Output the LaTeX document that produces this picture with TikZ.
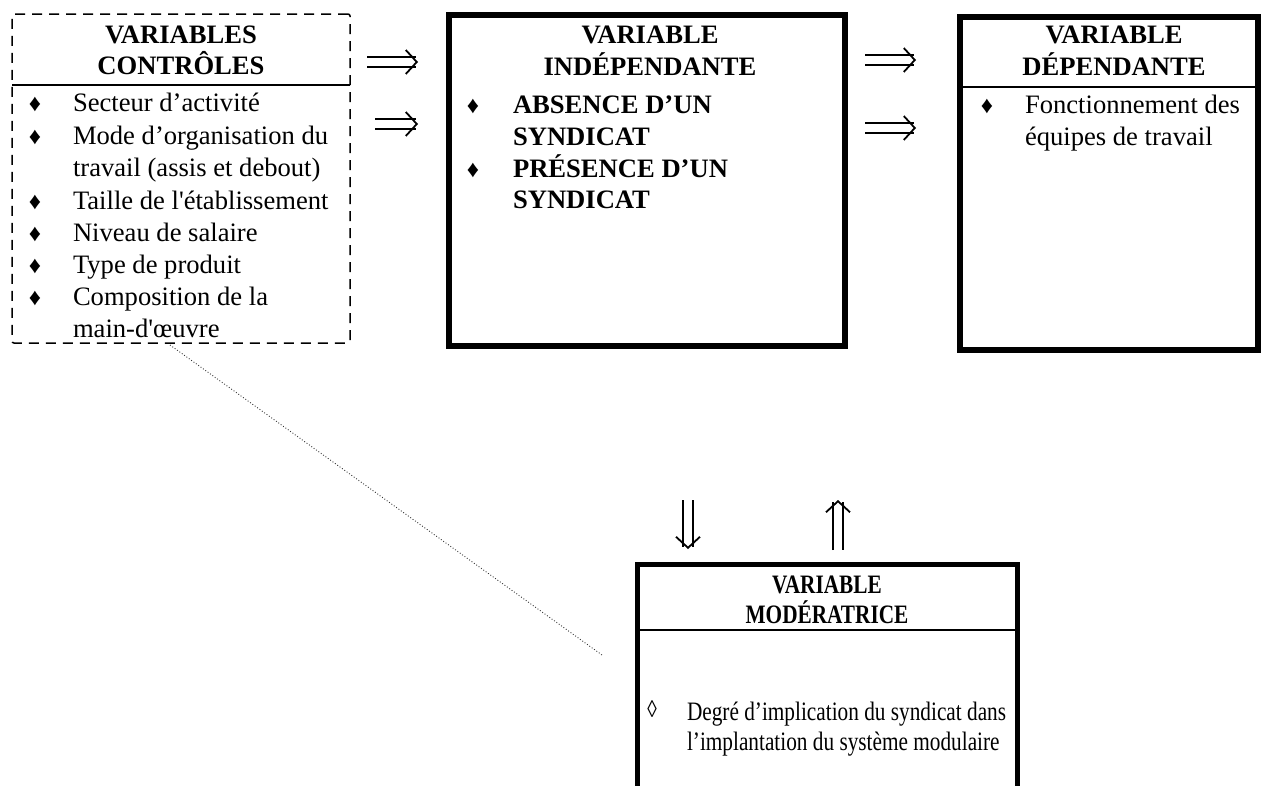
\documentclass[tikz,border=0pt]{standalone}
\usepackage{fontspec}
\setmainfont{Liberation Serif}
\newfontfamily\condfont{Liberation Serif}[FakeStretch=0.8]
\usetikzlibrary{arrows.meta}
\begin{document}
\begin{tikzpicture}[x=1pt,y=-1pt,
  every node/.style={inner sep=0pt, outer sep=0pt},
  txt/.style={font=\fontsize{26.6}{32}\selectfont, anchor=base west},
  btxt/.style={font=\fontsize{26.6}{32}\selectfont\bfseries, anchor=base west},
  hdr/.style={font=\fontsize{26.6}{32}\selectfont\bfseries, anchor=base},
  smtxt/.style={font=\condfont\fontsize{26.6}{30}\selectfont, anchor=base west},
  smhdr/.style={font=\condfont\fontsize{26.6}{30}\selectfont\bfseries, anchor=base},
  bul/.style={font=\fontsize{24}{26}\selectfont, anchor=base},
  ctrlbox/.style={draw, line width=1.5pt, dash pattern=on 10pt off 7pt, rounded corners=2pt},
  thickbox/.style={draw, line width=6pt},
  sepline/.style={line width=1.3pt},
  dblarrow/.style={double, double distance=7.5pt, line width=1.8pt,
    -{Straight Barb[length=11pt, width=24pt, line width=1.8pt]}},
  dotlink/.style={dotted, line width=0.9pt, black!80}
]
\useasboundingbox (0,0) rectangle (1263,785);

% boxes
\node[ctrlbox, minimum width=338pt, minimum height=329pt] (ctrl) at (181,178.5) {};
\node[thickbox, minimum width=396pt, minimum height=331pt] (indep) at (647,180.5) {};
\node[thickbox, minimum width=298pt, minimum height=333.5pt] (dep) at (1109,183.25) {};
\node[minimum width=380pt, minimum height=226pt] (mod) at (827,677.5) {};
\draw[line width=5pt] (mod.south west) -- (mod.north west) -- (mod.north east) -- (mod.south east);

% separators
\draw[sepline] (12,85) -- (350,85);
\draw[sepline] (963,87) -- (1255,87);
\draw[sepline] (639,630) -- (1015,630);

% control variables
\node[hdr] (c1) at (181,43) {VARIABLES};
\node[hdr] (c2) at (181,74) {CONTRÔLES};
\node[bul] (cb1) at (35,111) {♦};
\node[txt] (ct1) at (73,111) {Secteur d’activité};
\node[bul] (cb2) at (35,144) {♦};
\node[txt] (ct2) at (73,144) {Mode d’organisation du};
\node[txt] (ct3) at (73,176) {travail (assis et debout)};
\node[bul] (cb3) at (35,209) {♦};
\node[txt] (ct4) at (73,209) {Taille de l\textquotesingle établissement};
\node[bul] (cb4) at (35,241) {♦};
\node[txt] (ct5) at (73,241) {Niveau de salaire};
\node[bul] (cb5) at (35,273) {♦};
\node[txt] (ct6) at (73,273) {Type de produit};
\node[bul] (cb6) at (35,305) {♦};
\node[txt] (ct7) at (73,305) {Composition de la};
\node[txt] (ct8) at (73,337) {main-d\textquotesingle œuvre};

% independent variable
\node[hdr] (i1) at (650,43) {VARIABLE};
\node[hdr] (i2) at (650,75) {INDÉPENDANTE};
\node[bul] (ib1) at (473,113) {♦};
\node[btxt] (it1) at (513,113) {ABSENCE D’UN};
\node[btxt] (it2) at (513,145) {SYNDICAT};
\node[bul] (ib2) at (473,177) {♦};
\node[btxt] (it3) at (513,177) {PRÉSENCE D’UN};
\node[btxt] (it4) at (513,208) {SYNDICAT};

% dependent variable
\node[hdr] (d1) at (1114,43) {VARIABLE};
\node[hdr] (d2) at (1114,75) {DÉPENDANTE};
\node[bul] (db1) at (987,113) {♦};
\node[txt] (dt1) at (1025,113) {Fonctionnement des};
\node[txt] (dt2) at (1025,145) {équipes de travail};

% moderating variable
\node[smhdr] (m1) at (827,593) {VARIABLE};
\node[smhdr] (m2) at (827,623) {MODÉRATRICE};
\node[bul, font=\condfont\fontsize{24}{26}\selectfont] (mb1) at (652,717) {◊};
\node[smtxt] (mt1) at (687,720) {Degré d’implication du syndicat dans};
\node[smtxt] (mt2) at (687,750) {l’implantation du système modulaire};

% arrows
\coordinate (a1s) at (367,62);  \coordinate (a1e) at (418,62);
\coordinate (a2s) at (375,124); \coordinate (a2e) at (418,124);
\coordinate (a3s) at (865,60);  \coordinate (a3e) at (916,60);
\coordinate (a4s) at (865,128); \coordinate (a4e) at (916,128);
\coordinate (v1s) at (688,500); \coordinate (v1e) at (688,549);
\coordinate (v2s) at (838,550); \coordinate (v2e) at (838,500);
\draw[dblarrow] (a1s) -- (a1e);
\draw[dblarrow] (a2s) -- (a2e);
\draw[dblarrow] (a3s) -- (a3e);
\draw[dblarrow] (a4s) -- (a4e);
\draw[dblarrow] (v1s) -- (v1e);
\draw[dblarrow] (v2s) -- (v2e);

% dotted link
\coordinate (dots) at (170,345);
\coordinate (dote) at (602,655);
\draw[dotlink] (dots) -- (dote);
\end{tikzpicture}
\end{document}
